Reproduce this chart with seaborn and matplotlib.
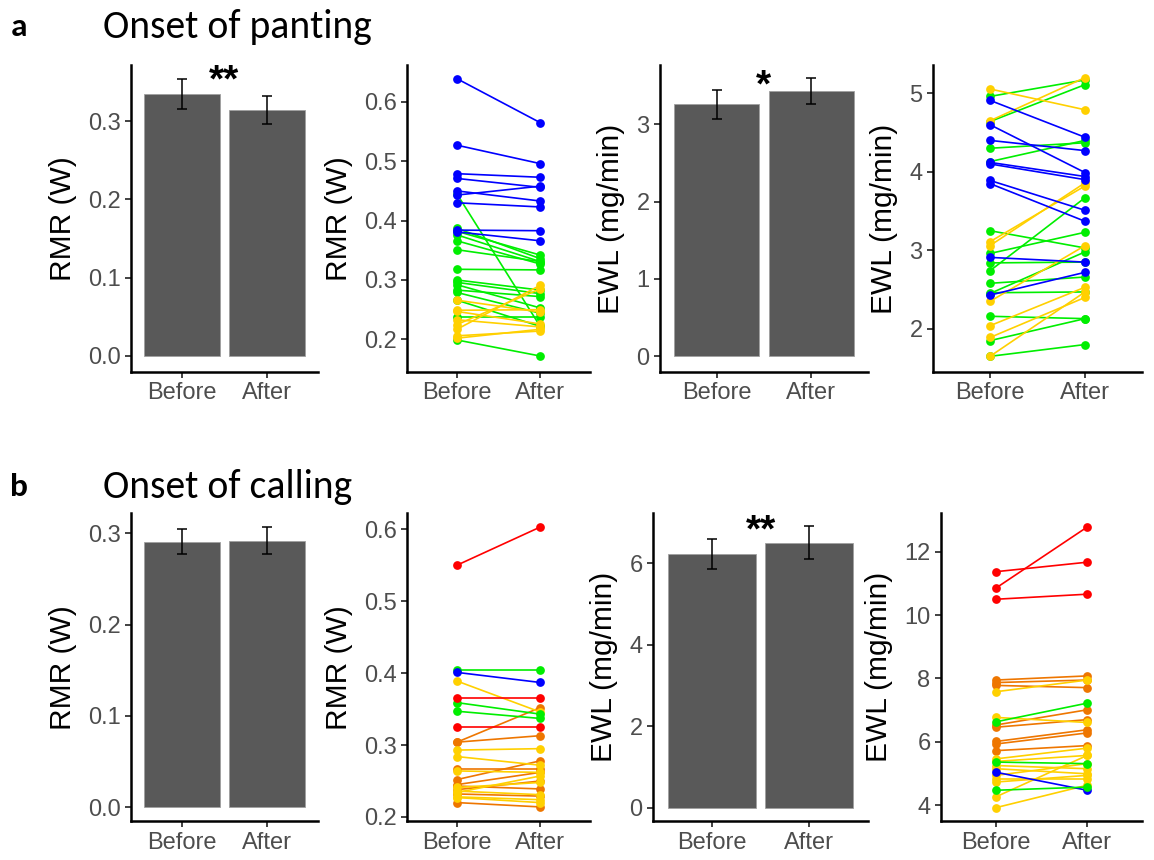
import numpy as np
import pandas as pd
import matplotlib
matplotlib.use("Agg")
import matplotlib.pyplot as plt
from matplotlib.ticker import FormatStrFormatter
import seaborn as sns

# ---------------- data ----------------
conditions = ["Before", "After"]

# bar panels: means and error-bar limits
a_rmr_mean = [0.335, 0.3145]
a_rmr_lo = [0.316, 0.297]
a_rmr_hi = [0.3545, 0.332]

a_ewl_mean = [3.26, 3.43]
a_ewl_lo = [3.065, 3.26]
a_ewl_hi = [3.445, 3.60]

b_rmr_mean = [0.291, 0.2915]
b_rmr_lo = [0.277, 0.277]
b_rmr_hi = [0.305, 0.307]

b_ewl_mean = [6.22, 6.50]
b_ewl_lo = [5.86, 6.11]
b_ewl_hi = [6.59, 6.91]

# paired panels
a_rmr_group = (["green"] * 15 + ["yellow"] * 8 + ["blue"] * 9)
a_rmr_before = [0.445, 0.387, 0.382, 0.376, 0.366, 0.351, 0.318, 0.300, 0.296, 0.292, 0.283, 0.279, 0.266, 0.238, 0.199,
                0.266, 0.249, 0.247, 0.233, 0.217, 0.206, 0.202, 0.225,
                0.639, 0.527, 0.479, 0.471, 0.450, 0.443, 0.430, 0.384, 0.381]
a_rmr_after = [0.222, 0.336, 0.342, 0.331, 0.327, 0.331, 0.317, 0.283, 0.277, 0.253, 0.272, 0.244, 0.222, 0.238, 0.172,
               0.246, 0.250, 0.226, 0.221, 0.291, 0.214, 0.217, 0.285,
               0.565, 0.496, 0.473, 0.456, 0.433, 0.458, 0.423, 0.383, 0.366]

a_ewl_group = (["green"] * 14 + ["yellow"] * 8 + ["blue"] * 9)
a_ewl_before = [4.96, 4.64, 4.30, 4.13, 3.25, 2.96, 2.84, 2.74, 2.58, 2.45, 2.46, 2.16, 1.85, 1.65,
                5.055, 4.65, 3.11, 3.06, 2.35, 2.04, 1.89, 1.65,
                4.91, 4.60, 4.40, 4.12, 4.10, 3.89, 3.85, 2.91, 2.43]
a_ewl_after = [5.17, 5.11, 4.37, 4.40, 3.03, 3.23, 2.85, 3.67, 2.66, 2.98, 2.47, 2.13, 2.13, 1.80,
               4.79, 5.20, 3.82, 3.86, 3.06, 2.53, 2.40, 2.47,
               4.44, 3.99, 4.27, 3.94, 3.90, 3.51, 3.37, 2.85, 2.72]

b_rmr_group = (["orange"] * 9 + ["yellow"] * 9 + ["green"] * 3 + ["red"] * 3 + ["blue"] * 1)
b_rmr_before = [0.304, 0.304, 0.267, 0.252, 0.243, 0.238, 0.232, 0.220, 0.245,
                0.389, 0.293, 0.284, 0.264, 0.241, 0.236, 0.228, 0.227, 0.234,
                0.404, 0.359, 0.347,
                0.550, 0.366, 0.325,
                0.401]
b_rmr_after = [0.352, 0.313, 0.267, 0.278, 0.239, 0.250, 0.229, 0.214, 0.262,
               0.346, 0.295, 0.272, 0.262, 0.248, 0.231, 0.224, 0.220, 0.257,
               0.404, 0.343, 0.337,
               0.603, 0.366, 0.325,
               0.387]

b_ewl_group = (["orange"] * 8 + ["yellow"] * 11 + ["green"] * 3 + ["red"] * 3 + ["blue"] * 1)
b_ewl_before = [7.95, 7.87, 7.78, 6.53, 6.46, 6.01, 5.93, 5.72,
                7.58, 6.77, 5.46, 5.38, 5.25, 5.15, 4.94, 4.83, 4.73, 4.26, 3.92,
                6.63, 5.36, 4.47,
                11.37, 10.85, 10.50,
                5.04]
b_ewl_after = [8.08, 7.95, 7.71, 7.01, 6.70, 6.38, 6.28, 5.88,
               7.95, 6.61, 5.80, 5.57, 5.15, 4.99, 5.31, 4.83, 4.94, 5.57, 4.63,
               7.22, 5.31, 4.57,
               11.67, 12.78, 10.66,
               4.47]

palette = {"blue": "#0000FF", "green": "#00EE00", "yellow": "#FFD000",
           "orange": "#EE7600", "red": "#FF0000"}

# ---------------- style ----------------
sns.set_theme(style="white")
plt.rcParams["font.family"] = ["Liberation Sans", "DejaVu Sans"]
plt.rcParams["text.color"] = "black"

TICK_FS = 17
LAB_FS = 21.5
TICK_COL = "#4D4D4D"
SANS = ["Liberation Sans", "DejaVu Sans"]
TITLE_FAM = ["Carlito", "Lato", "DejaVu Sans"]

fig = plt.figure(figsize=(11.54, 8.6), dpi=100)


def style_axes(ax, ylabel, ylim, yticks, fmt):
    for s in ["top", "right"]:
        ax.spines[s].set_visible(False)
    for s in ["left", "bottom"]:
        ax.spines[s].set_color("black")
        ax.spines[s].set_linewidth(1.8)
    ax.set_xlim(-0.6, 1.6)
    ax.set_xticks([0, 1])
    ax.set_xticklabels(conditions)
    ax.set_ylim(*ylim)
    ax.set_yticks(yticks)
    ax.yaxis.set_major_formatter(FormatStrFormatter(fmt))
    ax.tick_params(axis="both", colors="#333333", labelcolor=TICK_COL,
                   labelsize=TICK_FS, length=4.5, width=1.3, left=True, bottom=True, pad=3)
    for lab in ax.get_xticklabels() + ax.get_yticklabels():
        lab.set_family(SANS)
    ax.set_xlabel("")
    ax.set_ylabel(ylabel, fontsize=LAB_FS, color="black", labelpad=8, family=SANS)
    ax.grid(False)


def bar_panel(rect, mean, lo, hi, ylabel, ylim, yticks, fmt, star=None):
    ax = fig.add_axes(rect)
    df = pd.DataFrame({"cond": conditions, "val": mean})
    sns.barplot(data=df, x="cond", y="val", color="#595959", saturation=1,
                width=0.9, errorbar=None, edgecolor="#A0A0A0", linewidth=0.6, ax=ax)
    m = np.array(mean)
    yerr = [m - np.array(lo), np.array(hi) - m]
    ax.errorbar([0, 1], m, yerr=yerr, fmt="none", ecolor="black", elinewidth=1.1,
                capsize=3.5, capthick=1.1)
    style_axes(ax, ylabel, ylim, yticks, fmt)
    if star is not None:
        txt, sx, sy = star
        ax.text(sx, sy, txt, ha="center", va="baseline", fontsize=28, fontweight="bold",
                color="black", family=SANS)
    return ax


def line_panel(rect, before, after, group, ylabel, ylim, yticks, fmt, order):
    ax = fig.add_axes(rect)
    n = len(before)
    df = pd.DataFrame({
        "id": list(range(n)) * 2,
        "time": [0] * n + [1] * n,
        "val": list(before) + list(after),
        "grp": list(group) * 2,
    })
    sns.lineplot(data=df, x="time", y="val", hue="grp", hue_order=order, units="id",
                 estimator=None, palette=palette, marker="o", markersize=6.3,
                 markeredgewidth=0, linewidth=1.2, legend=False, ax=ax)
    style_axes(ax, ylabel, ylim, yticks, fmt)
    return ax


top_b, top_h = 0.5674, 0.357
bot_b, bot_h = 0.045, 0.358

bar_panel([0.1135, top_b, 0.162, top_h], a_rmr_mean, a_rmr_lo, a_rmr_hi, "RMR (W)",
          (-0.021, 0.372), [0.0, 0.1, 0.2, 0.3], "%.1f", star=("**", 0.5, 0.338))
line_panel([0.3527, top_b, 0.1586, top_h], a_rmr_before, a_rmr_after, a_rmr_group, "RMR (W)",
           (0.145, 0.662), [0.2, 0.3, 0.4, 0.5, 0.6], "%.1f", ["green", "yellow", "blue"])
bar_panel([0.5719, top_b, 0.1802, top_h], a_ewl_mean, a_ewl_lo, a_ewl_hi, "EWL (mg/min)",
          (-0.207, 3.77), [0, 1, 2, 3], "%d", star=("*", 0.49, 3.365))
line_panel([0.8085, top_b, 0.1811, top_h], a_ewl_before, a_ewl_after, a_ewl_group, "EWL (mg/min)",
           (1.45, 5.36), [2, 3, 4, 5], "%d", ["green", "yellow", "blue"])

bar_panel([0.1135, bot_b, 0.162, bot_h], b_rmr_mean, b_rmr_lo, b_rmr_hi, "RMR (W)",
          (-0.0155, 0.322), [0.0, 0.1, 0.2, 0.3], "%.1f")
line_panel([0.3527, bot_b, 0.1586, bot_h], b_rmr_before, b_rmr_after, b_rmr_group, "RMR (W)",
           (0.194, 0.622), [0.2, 0.3, 0.4, 0.5, 0.6], "%.1f", ["orange", "yellow", "green", "red", "blue"])
bar_panel([0.5659, bot_b, 0.1863, bot_h], b_ewl_mean, b_ewl_lo, b_ewl_hi, "EWL (mg/min)",
          (-0.33, 7.22), [0, 2, 4, 6], "%d", star=("**", 0.505, 6.54))
line_panel([0.8154, bot_b, 0.1742, bot_h], b_ewl_before, b_ewl_after, b_ewl_group, "EWL (mg/min)",
           (3.49, 13.21), [4, 6, 8, 10, 12], "%d", ["orange", "yellow", "blue", "green", "red"])

# panel headings
fig.text(0.009, 1 - 27 / 860, "a", fontsize=24, fontweight="bold", va="center", ha="left",
         color="black", family=TITLE_FAM)
fig.text(103 / 1154, 1 - 27 / 860, "Onset of panting", fontsize=28.5, va="center", ha="left",
         color="black", family=TITLE_FAM)
fig.text(0.009, 1 - 487 / 860, "b", fontsize=24, fontweight="bold", va="center", ha="left",
         color="black", family=TITLE_FAM)
fig.text(103 / 1154, 1 - 487 / 860, "Onset of calling", fontsize=28.5, va="center", ha="left",
         color="black", family=TITLE_FAM)

fig.savefig("out.png", dpi=100)
